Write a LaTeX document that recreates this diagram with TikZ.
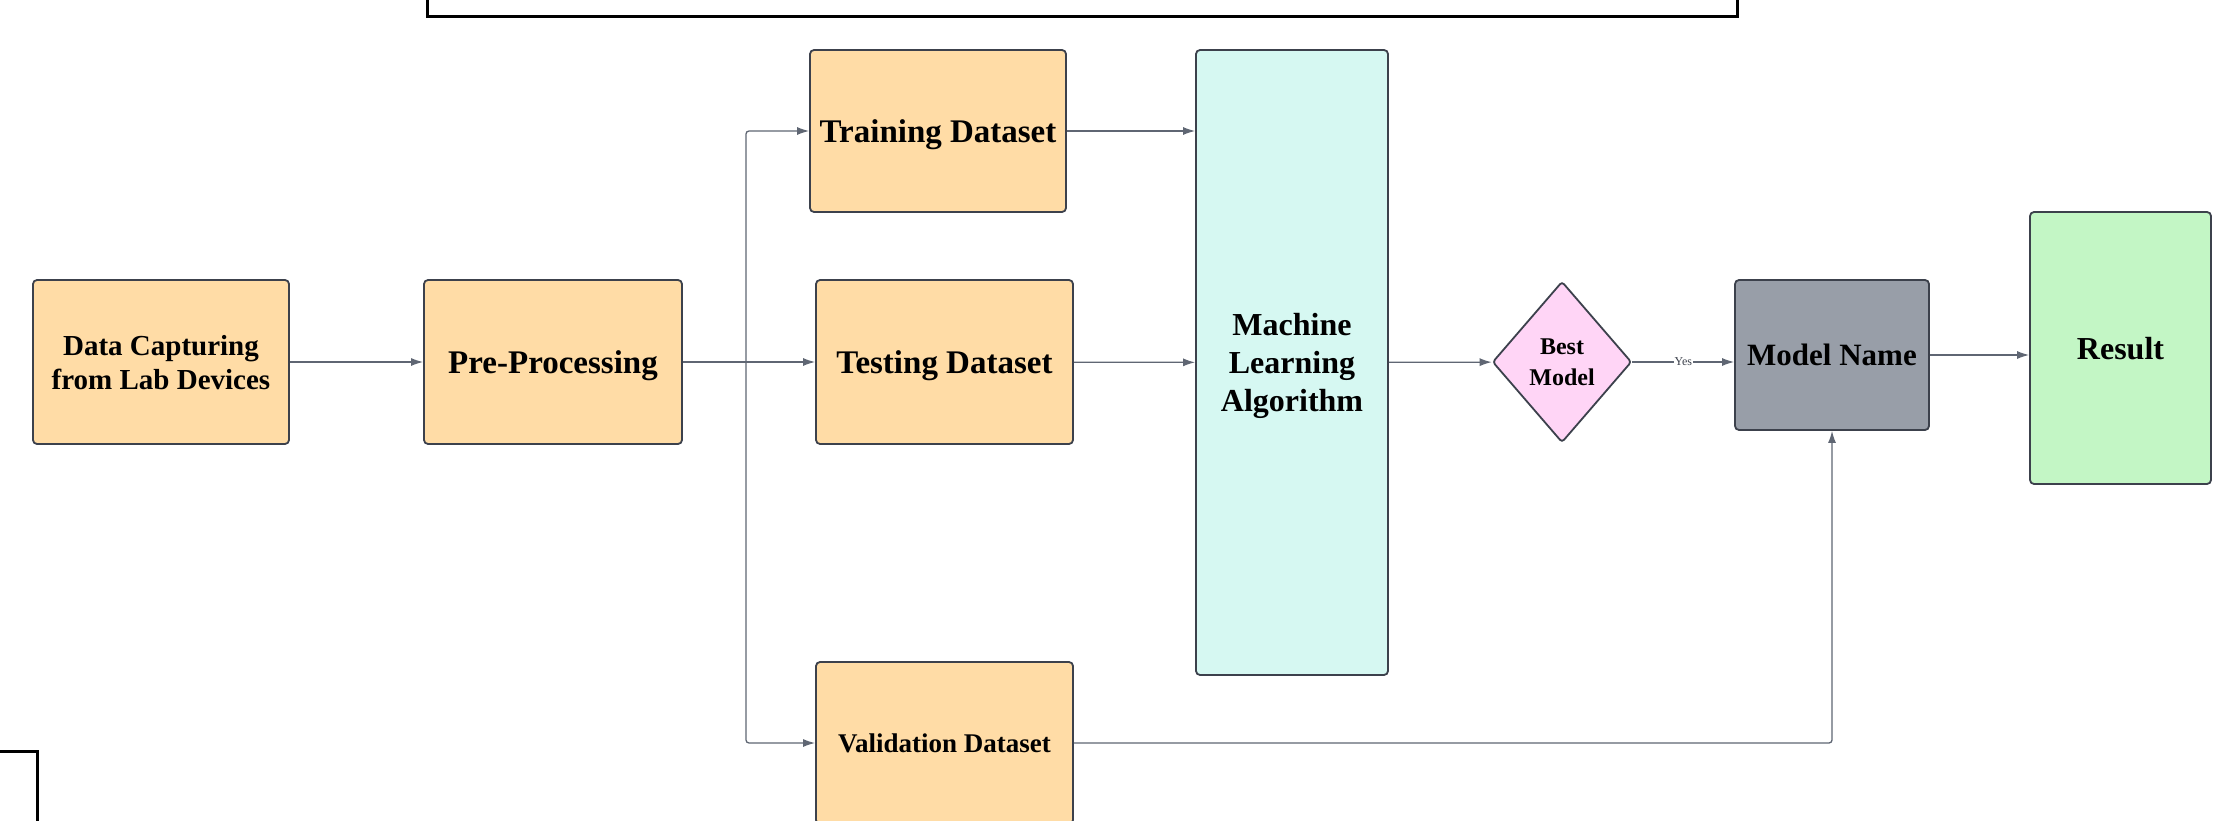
\documentclass[tikz,border=0pt]{standalone}
\usepackage{fontspec}
\setmainfont{Liberation Serif}
\usetikzlibrary{shapes.geometric,arrows.meta}
\definecolor{boxorange}{HTML}{FFDCA6}
\definecolor{mlcyan}{HTML}{D6F8F2}
\definecolor{pinkd}{HTML}{FFD5F6}
\definecolor{greybox}{HTML}{989EA8}
\definecolor{greenbox}{HTML}{C3F6C5}
\definecolor{edgec}{HTML}{3C414C}
\definecolor{linec}{HTML}{5F6673}
\begin{document}
\begin{tikzpicture}[x=1pt,y=-1pt,
  box/.style={draw=edgec,line width=1.8pt,rounded corners=4pt,inner sep=0pt,align=center,text depth=0pt,font=\bfseries\fontsize{33}{38}\selectfont},
  conn/.style={draw=linec,line width=1.3pt,-{Latex[length=12pt,width=8pt]}},
  plain/.style={draw=linec,line width=1.3pt},
  frame/.style={draw=black,line width=3pt}
]
\useasboundingbox (0,0) rectangle (2232,821);
\fill[white] (0,0) rectangle (2232,821);
\begin{scope}
\clip (0,0) rectangle (2232,821);
\draw[frame] (427,-10) -- (427,17) -- (1737,17) -- (1737,-10);
\draw[frame] (-10,751) -- (37,751) -- (37,830);

\node[box,fill=boxorange,minimum width=256pt,minimum height=164pt,font=\bfseries\fontsize{29}{34}\selectfont] (cap) at (161,362) {Data Capturing\\from Lab Devices};
\node[box,fill=boxorange,minimum width=258pt,minimum height=164pt] (pre) at (553,362) {Pre-Processing};
\node[box,fill=boxorange,minimum width=256pt,minimum height=162pt] (train) at (938,131) {Training Dataset};
\node[box,fill=boxorange,minimum width=257pt,minimum height=164pt] (test) at (944.5,362) {Testing Dataset};
\node[box,fill=boxorange,minimum width=257pt,minimum height=162pt,font=\bfseries\fontsize{27}{32}\selectfont] (val) at (944.5,743) {Validation Dataset};
\node[box,fill=mlcyan,minimum width=192pt,minimum height=625pt,font=\bfseries\fontsize{32}{38}\selectfont] (ml) at (1292,362.5) {Machine\\Learning\\Algorithm};
\node[box,diamond,fill=pinkd,minimum width=139pt,minimum height=161pt,rounded corners=3pt,font=\bfseries\fontsize{24}{31}\selectfont] (best) at (1562,362) {Best\\Model};
\node[box,fill=greybox,minimum width=194pt,minimum height=150pt,font=\bfseries\fontsize{31}{36}\selectfont] (mn) at (1832,355) {Model Name};
\node[box,fill=greenbox,minimum width=181pt,minimum height=272pt,font=\bfseries\fontsize{32}{38}\selectfont] (res) at (2120.5,348) {Result};

\coordinate (split) at (746,362);
\draw[conn] (cap) -- (pre);
\draw[plain] (pre.east) -- (split);
\draw[conn,rounded corners=3pt] (split) |- (train.west);
\draw[conn] (split) -- (test);
\draw[conn,rounded corners=3pt] (split) |- (val.west);
\draw[conn] (train.east) -- (train.east -| ml.west);
\draw[conn] (test) -- (ml);
\draw[conn] (ml) -- (best);
\draw[conn] (best.east) -- node[fill=white,inner sep=1pt,text=edgec,font=\fontsize{12}{14}\selectfont] {Yes} (best.east -| mn.west);
\draw[conn] (mn.east) -- (mn.east -| res.west);
\draw[conn,rounded corners=3pt] (val.east) -| (mn.south);
\end{scope}
\end{tikzpicture}
\end{document}
